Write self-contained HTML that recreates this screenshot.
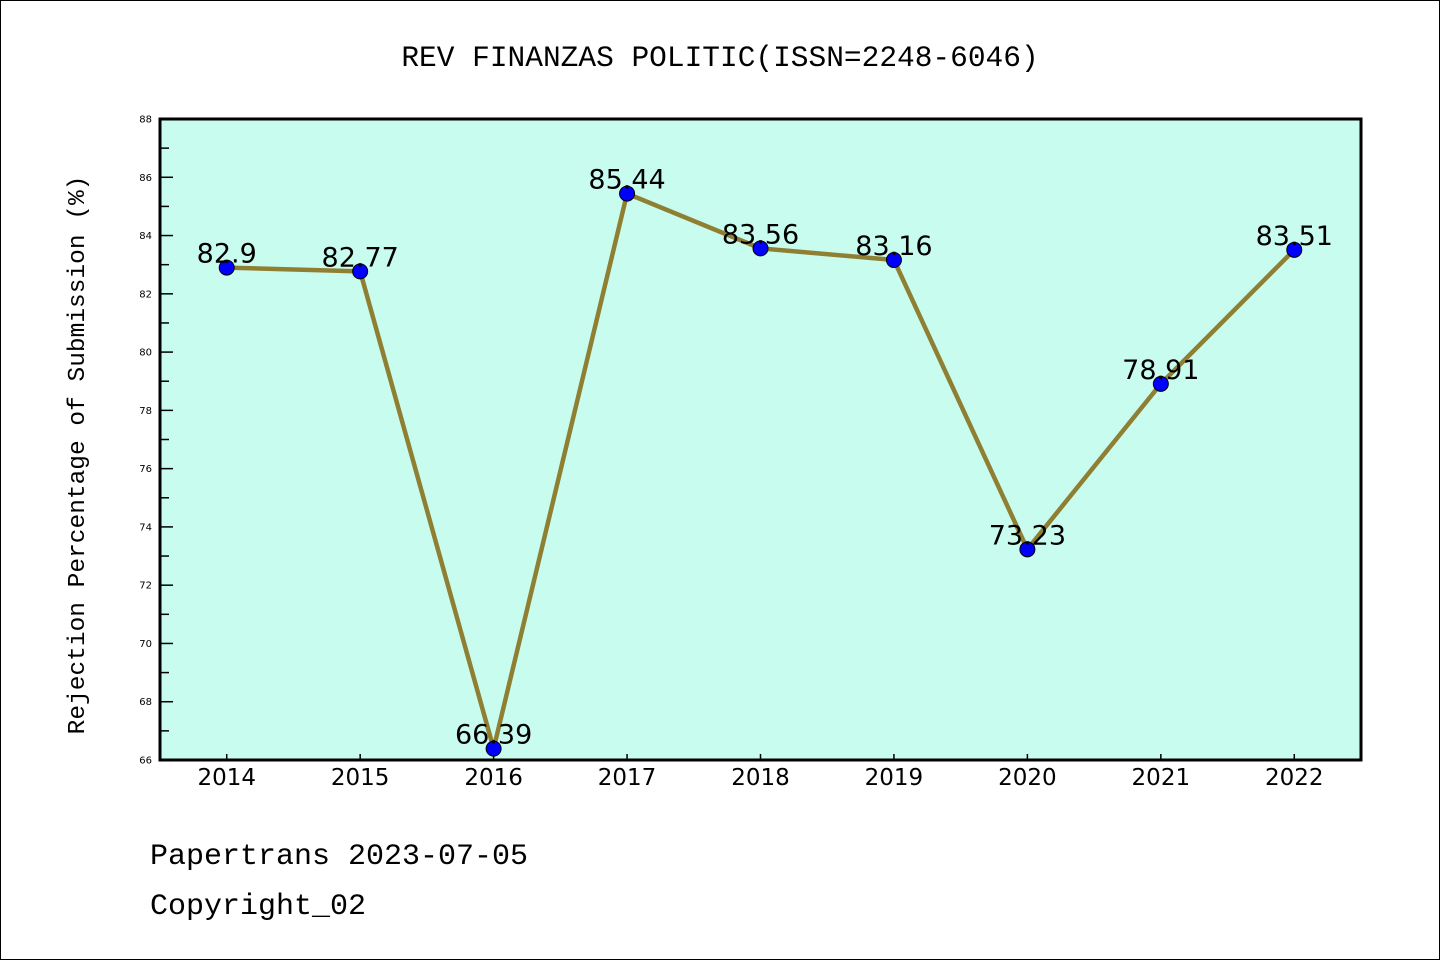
<!DOCTYPE html>
<html><head><meta charset="utf-8"><style>
body{margin:0;background:#fff;}
svg text{font-family:"DejaVu Sans","Liberation Sans",sans-serif;}
.mono{font-family:"Liberation Mono","DejaVu Sans Mono",monospace;}
</style></head><body>
<svg id="chart" width="1440" height="960" xmlns="http://www.w3.org/2000/svg">
<rect x="0.5" y="0.5" width="1439" height="959" fill="#fff" stroke="#000" stroke-width="1"/>
<text class="mono" x="720" y="66" font-size="29.5" text-anchor="middle">REV FINANZAS POLITIC(ISSN=2248-6046)</text>
<rect x="160" y="119" width="1201" height="641" fill="#c8fcee"/>
<g id="axes"></g>
<g id="series"></g>
<rect x="160" y="119" width="1201" height="641" fill="none" stroke="#000" stroke-width="3"/>
<text class="mono" transform="translate(84,455) rotate(-90)" font-size="24.5" text-anchor="middle">Rejection Percentage of Submission (%)</text>
<text class="mono" x="150" y="864" font-size="30">Papertrans 2023-07-05</text>
<text class="mono" x="150" y="914" font-size="30">Copyright_02</text>
</svg>
<script>
const years=["2014","2015","2016","2017","2018","2019","2020","2021","2022"];
const values=[82.9,82.77,66.39,85.44,83.56,83.16,73.23,78.91,83.51];
const valueLabels=["82.9","82.77","66.39","85.44","83.56","83.16","73.23","78.91","83.51"];
const yTicks=[66,68,70,72,74,76,78,80,82,84,86,88];
const NS="http://www.w3.org/2000/svg";
const L=160,R=1361,T=119,B=760,ymin=66,ymax=88;
const x=i=>L+(i+0.5)*(R-L)/years.length;
const y=v=>B-(v-ymin)/(ymax-ymin)*(B-T);
function mk(tag,attrs,parent){const e=document.createElementNS(NS,tag);for(const k in attrs)e.setAttribute(k,attrs[k]);parent.appendChild(e);return e;}
const ax=document.getElementById('axes'),se=document.getElementById('series');
for(let v=ymin;v<=ymax;v++){
  const major=(v%2===0);
  const t=mk('line',{x1:L,x2:L+(major?13:9),y1:y(v),y2:y(v),stroke:'#000','stroke-width':1.5},ax);
  
  
}
yTicks.forEach(v=>{
  const t=mk('text',{x:L-8,y:y(v)+3.5,'font-size':10,'text-anchor':'end'},ax);
  t.textContent=v;
  
  
});
years.forEach((yr,i)=>{
  const t=mk('line',{x1:x(i),x2:x(i),y1:B,y2:B-6,stroke:'#000','stroke-width':1.5},ax);
  
  
  const l=mk('text',{x:x(i),y:B+25,'font-size':23,'text-anchor':'middle'},ax);
  l.textContent=yr;
  
  
});
const pts=values.map((v,i)=>x(i)+','+y(v)).join(' ');
const line=mk('polyline',{points:pts,fill:'none',stroke:'#8f7f33','stroke-width':4.5,'stroke-linejoin':'round'},se);


values.forEach((v,i)=>{
  const c=mk('circle',{cx:x(i),cy:y(v),r:7.5,fill:'#0000ff',stroke:'#000','stroke-width':1},se);
  
  
  const t=mk('text',{x:x(i),y:y(v)-5,'font-size':27,'text-anchor':'middle'},se);
  t.textContent=valueLabels[i];
  
  
});
</script>
</body></html>
